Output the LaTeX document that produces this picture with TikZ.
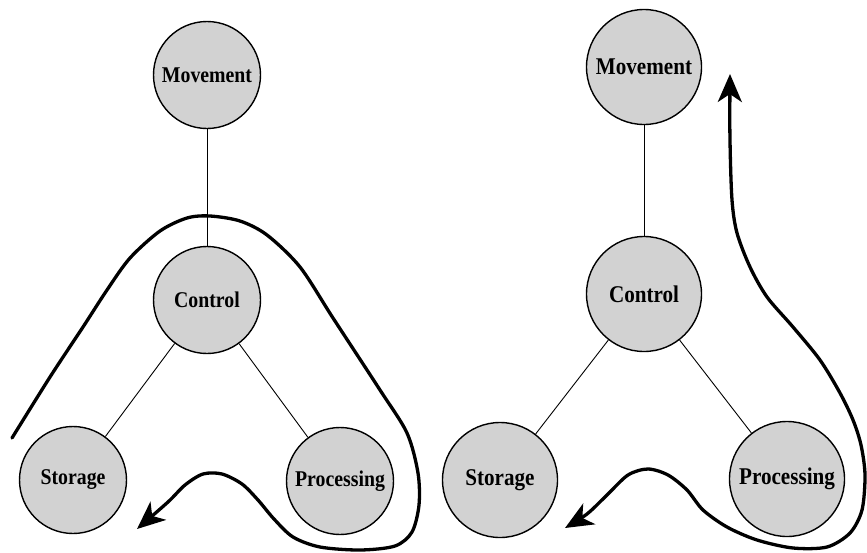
\documentclass[tikz,border=0pt]{standalone}
\usepackage{fontspec}
\setmainfont{Liberation Serif}
\newfontfamily\labelfont{Liberation Serif}[FakeStretch=0.88]
\usetikzlibrary{arrows.meta}
\definecolor{nodefill}{RGB}{210,210,210}
\begin{document}
\begin{tikzpicture}[x=1pt,y=-1pt,
  unit/.style={circle,draw=black,line width=1.4pt,fill=nodefill,inner sep=0pt},
  lunit/.style={unit,minimum size=107pt,font=\labelfont\fontsize{22.5}{24}\selectfont\bfseries},
  runit/.style={unit,minimum size=115pt,font=\labelfont\fontsize{24}{26}\selectfont\bfseries},
  link/.style={line width=0.9pt},
  flow/.style={line width=3.3pt,line cap=round,line join=round},
  head/.tip={Stealth[length=28pt,width=24pt,inset=8pt]}]
\useasboundingbox (0,0) rectangle (867,552);

% left panel
\node[lunit] (lmov) at (207,75) {Movement};
\node[lunit] (lctl) at (207,300) {Control};
\node[lunit] (lsto) at (73,480) {Storage};
\node[lunit] (lpro) at (340,481) {Processing};
\draw[link] (lmov) -- (lctl);
\draw[link] (lctl) -- (lsto);
\draw[link] (lctl) -- (lpro);

\draw[flow,-head] plot[smooth,tension=0.5] coordinates {
  (12,438) (50,377) (83,327) (107,290) (130,258) (160,231) (187,218)
  (210,216) (240,221) (267,235) (300,267) (333,318) (380,390) (407,433)
  (418,473) (419,505) (412,532) (395,546) (360,550) (320,547) (293,537)
  (274,519) (258,500) (242,484) (222,474) (203,474) (185,485) (168,502)
  (137,529)};

% right panel
\node[runit] (rmov) at (644,67) {Movement};
\node[runit] (rctl) at (644,294) {Control};
\node[runit] (rsto) at (500,480) {Storage};
\node[runit] (rpro) at (787,479) {Processing};
\draw[link] (rmov) -- (rctl);
\draw[link] (rctl) -- (rsto);
\draw[link] (rctl) -- (rpro);

\draw[flow,head-head] plot[smooth,tension=0.5] coordinates {
  (730,74) (730,140) (732,200) (737,233) (750,267) (767,297) (793,327)
  (820,360) (840,393) (853,420) (861,445) (865,475) (862,510) (850,533)
  (827,547) (793,548) (757,540) (727,527) (703,510) (687,490) (668,475)
  (648,469) (628,475) (607,495) (587,514) (565,528)};
\end{tikzpicture}
\end{document}
